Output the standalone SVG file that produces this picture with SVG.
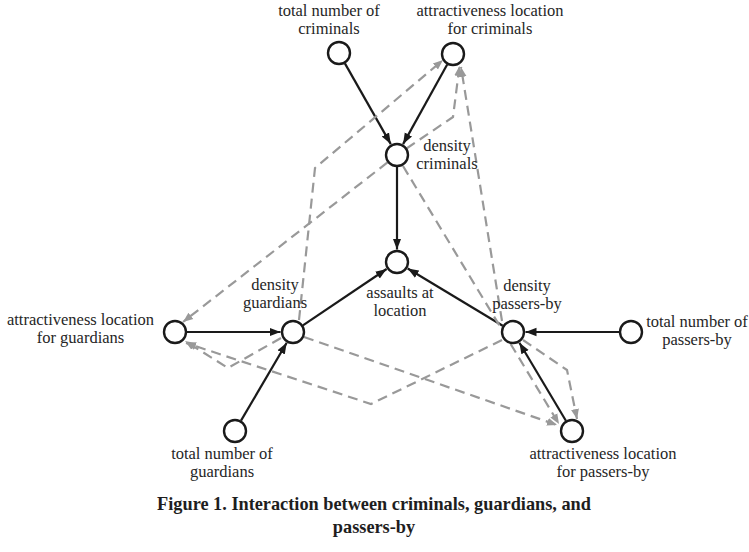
<svg xmlns="http://www.w3.org/2000/svg" width="749" height="552" viewBox="0 0 749 552">
<style>
.node{fill:#fff;stroke:#1a1a1a;stroke-width:2.4}
.lbl{font-family:"Liberation Serif","Times New Roman",serif;font-size:16.5px;fill:#262626;text-anchor:middle}
.cap{font-family:"Liberation Serif","Times New Roman",serif;font-size:18.3px;font-weight:bold;fill:#1e1e1e;text-anchor:middle}
.blk{fill:none;stroke:#1a1a1a;stroke-width:2.2;marker-end:url(#ab)}
.gry{fill:none;stroke:#999;stroke-width:2.2;stroke-dasharray:10,6;marker-end:url(#ag)}
</style>
<defs>
<marker id="ab" markerUnits="userSpaceOnUse" markerWidth="12" markerHeight="10" refX="11" refY="5" orient="auto"><path d="M0,0.8 L11,5 L0,9.2 Z" fill="#1a1a1a"/></marker>
<marker id="ag" markerUnits="userSpaceOnUse" markerWidth="11" markerHeight="10" refX="10" refY="5" orient="auto"><path d="M0,1 L10,5 L0,9 Z" fill="#999"/></marker>
</defs>
<rect width="749" height="552" fill="#fff"/>
<g id="connectors">
<line class="blk" x1="344.9" y1="63.4" x2="390.8" y2="144.1"/>
<line class="blk" x1="447.2" y1="64.5" x2="403.1" y2="144.1"/>
<line class="blk" x1="397" y1="167" x2="397" y2="249.5"/>
<line class="blk" x1="302.9" y1="325.3" x2="386.6" y2="269"/>
<line class="blk" x1="502.7" y1="325.8" x2="407.7" y2="268.5"/>
<line class="blk" x1="187" y1="332" x2="280.5" y2="332"/>
<line class="blk" x1="241" y1="420.6" x2="286.7" y2="342.8"/>
<line class="blk" x1="619" y1="332" x2="525.5" y2="332"/>
<line class="blk" x1="565.9" y1="420.7" x2="519.4" y2="342.7"/>
<polyline class="gry" points="406.5,148.5 453,117 459.5,66"/>
<line class="gry" x1="502" y1="321" x2="461" y2="67"/>
<polyline class="gry" points="299,320 315,168 443,60"/>
<line class="gry" x1="387.5" y1="162.4" x2="183" y2="322"/>
<polyline class="gry" points="281,338 228,368 185,341"/>
<polyline class="gry" points="502,340 371,404 186,343"/>
<line class="gry" x1="403" y1="166" x2="559" y2="424"/>
<line class="gry" x1="304" y1="337" x2="557" y2="425"/>
<polyline class="gry" points="523,340 567,370 577,419"/>
</g>
<g id="total-criminals"><circle class="node" cx="339" cy="53" r="11"/><text class="lbl" x="329" y="15.5">total number of</text><text class="lbl" x="329" y="33.5">criminals</text></g>
<g id="attr-criminals"><circle class="node" cx="453" cy="54" r="11"/><text class="lbl" x="490" y="15.5">attractiveness location</text><text class="lbl" x="490" y="33.5">for criminals</text></g>
<g id="density-criminals"><circle class="node" cx="397" cy="155" r="11"/><text class="lbl" x="447" y="151">density</text><text class="lbl" x="447" y="169">criminals</text></g>
<g id="assaults"><circle class="node" cx="397" cy="262" r="11"/><text class="lbl" x="400" y="298">assaults at</text><text class="lbl" x="400" y="316">location</text></g>
<g id="density-guardians"><circle class="node" cx="293" cy="332" r="11"/><text class="lbl" x="275" y="290">density</text><text class="lbl" x="275" y="308">guardians</text></g>
<g id="attr-guardians"><circle class="node" cx="175" cy="332" r="11"/><text class="lbl" x="80.5" y="325">attractiveness location</text><text class="lbl" x="80.5" y="343">for guardians</text></g>
<g id="total-guardians"><circle class="node" cx="235" cy="431" r="11"/><text class="lbl" x="222" y="459">total number of</text><text class="lbl" x="222" y="477">guardians</text></g>
<g id="density-passers"><circle class="node" cx="513" cy="332" r="11"/><text class="lbl" x="527" y="291">density</text><text class="lbl" x="527" y="309">passers-by</text></g>
<g id="total-passers"><circle class="node" cx="631" cy="332" r="11"/><text class="lbl" x="697" y="326.5">total number of</text><text class="lbl" x="697" y="344.5">passers-by</text></g>
<g id="attr-passers"><circle class="node" cx="572" cy="431" r="11"/><text class="lbl" x="603" y="459">attractiveness location</text><text class="lbl" x="603" y="477">for passers-by</text></g>
<g id="caption"><text class="cap" x="374" y="510">Figure 1. Interaction between criminals, guardians, and</text><text class="cap" x="374" y="533">passers-by</text></g>
</svg>
